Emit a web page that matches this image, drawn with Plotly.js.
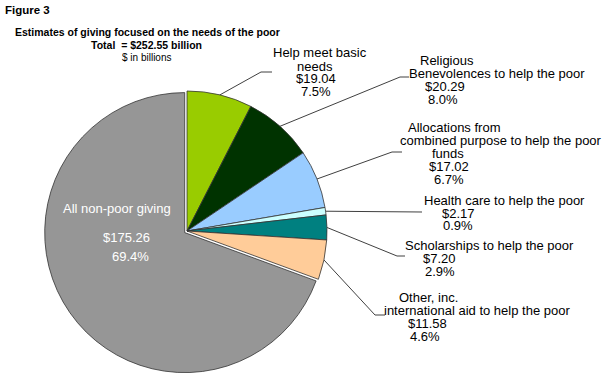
<!DOCTYPE html>
<html>
<head>
<meta charset="utf-8">
<script src="https://cdn.plot.ly/plotly-3.0.1.min.js"></script>
<style>html,body{margin:0;padding:0;background:#fff;}#chart{width:606px;height:380px;}</style>
</head>
<body>
<div id="chart"></div>
<script>
// ---- data ----
var categories = [
  "Help meet basic<br>needs",
  "Religious<br>Benevolences to help the poor",
  "Allocations from<br>combined purpose to help the poor<br>funds",
  "Health care to help the poor",
  "Scholarships to help the poor",
  "Other, inc.<br>international aid to help the poor",
  "All non-poor giving"
];
var values = [19.04, 20.29, 17.02, 2.17, 7.20, 11.58, 175.26];
var total = 252.55;
var colors = ["#99CC00", "#003300", "#99CCFF", "#CCFFFF", "#008080", "#FFCC99", "#969696"];
var pulls = [0, 0, 0, 0, 0, 0, 0.02];

// ---- layout constants (pixels) ----
var W = 606, H = 380;
var CX = 187, CY = 231, R = 140;
var FONT = "Liberation Sans, Arial, sans-serif";
var LINE_GAP = 13;
var labelPos = [
  {y: 53,  xs: [320, 315, 316, 316],      elbow: [261, 72],  end: 272},
  {y: 60,  xs: [447, 497, 445, 443],      elbow: [400, 77],  end: 409},
  {y: 127, xs: [454, 501, 448, 449, 449], elbow: [392, 152], end: 402},
  {y: 200, xs: [504, 458, 458],           elbow: [422, 212], end: 422},
  {y: 245, xs: [489, 439, 440],           elbow: [397, 256], end: 405},
  {y: 297, xs: [428, 477, 427, 425],      elbow: [375, 315], end: 385}
];
var innerPos = {xs: [117, 126, 130], ys: [208, 237, 256]};

function px(x) { return x / W; }
function py(y) { return 1 - y / H; }

var maxPull = Math.max.apply(null, pulls);
var half = R * (1 + maxPull);

var trace = {
  type: "pie",
  values: values,
  labels: categories,
  sort: false,
  direction: "clockwise",
  rotation: 0,
  pull: pulls,
  textinfo: "none",
  hoverinfo: "none",
  showlegend: false,
  marker: {colors: colors, line: {color: "#333333", width: 0.8}},
  domain: {x: [px(CX - half), px(CX + half)], y: [py(CY + half), py(CY - half)]}
};

var annotations = [];
var shapes = [];
function addText(txt, x, y, size, color) {
  annotations.push({text: txt, x: px(x), y: py(y), xref: "paper", yref: "paper",
    xanchor: "center", yanchor: "middle", showarrow: false,
    font: {family: FONT, size: size, color: color}});
}

var cum = 0;
for (var i = 0; i < values.length; i++) {
  var frac = values[i] / total;
  var mid = (cum + frac / 2) * 2 * Math.PI;
  cum += frac;
  var lines = categories[i].split("<br>");
  lines.push("$" + values[i].toFixed(2));
  lines.push((frac * 100).toFixed(1) + "%");
  if (i < labelPos.length) {
    var p = labelPos[i];
    for (var k = 0; k < lines.length; k++) {
      addText(lines[k], p.xs[k], p.y + k * LINE_GAP, 13, "#000");
    }
    var sx = CX + R * Math.sin(mid), sy = CY - R * Math.cos(mid);
    shapes.push({type: "path", xref: "paper", yref: "paper",
      path: "M" + px(sx) + "," + py(sy) + " L" + px(p.elbow[0]) + "," + py(p.elbow[1]) +
            " L" + px(p.end) + "," + py(p.elbow[1]),
      line: {color: "#404040", width: 1}});
  } else {
    var inner = [lines[0], lines[1], lines[2]];
    for (var k2 = 0; k2 < inner.length; k2++) {
      addText(inner[k2], innerPos.xs[k2], innerPos.ys[k2], 13, "#ffffff");
    }
  }
}

// titles
addText("<b>Figure 3</b>", 27, 10, 11.5, "#000");
addText("<b>Estimates of giving focused on the needs of the poor</b>", 147, 32, 10.5, "#000");
addText("<b>Total  = $252.55 billion</b>", 146, 45, 10.5, "#000");
addText("$ in billions", 146, 57, 10, "#000");

var layout = {
  width: W, height: H,
  margin: {l: 0, r: 0, t: 0, b: 0},
  paper_bgcolor: "#ffffff",
  plot_bgcolor: "#ffffff",
  annotations: annotations,
  shapes: shapes,
  font: {family: FONT}
};

Plotly.newPlot("chart", [trace], layout, {staticPlot: true, displayModeBar: false});
</script>
</body>
</html>
